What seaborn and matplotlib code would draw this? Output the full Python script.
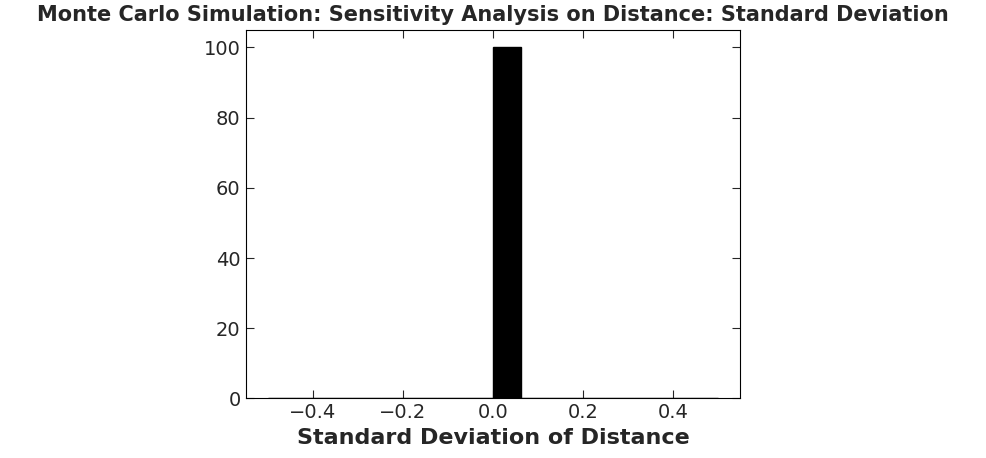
import numpy as np
import matplotlib
matplotlib.use("Agg")
import matplotlib.pyplot as plt
import seaborn as sns

# simulated standard deviations of distance (all runs gave zero spread)
std_of_distance = [0.0] * 100
bin_edges = np.linspace(-0.5, 0.5, 17)

sns.set_style("ticks")
plt.rcParams['font.family'] = ['DejaVu Sans']

fig, ax = plt.subplots(figsize=(9.86, 4.58), dpi=100)
fig.subplots_adjust(left=0.249, right=0.751, top=0.935, bottom=0.13)

sns.histplot(x=std_of_distance, bins=bin_edges, color='black', edgecolor='black',
             alpha=1, ax=ax)

ax.set_xlim(-0.55, 0.55)
ax.set_ylim(0, 105)
ax.set_xlabel('Standard Deviation of Distance', fontsize=16, fontweight='bold')
ax.set_ylabel('')
ax.set_title('Monte Carlo Simulation: Sensitivity Analysis on Distance: Standard Deviation',
             fontsize=15, fontweight='bold')
ax.tick_params(direction='in', top=True, right=True, labelsize=14, length=6)
for s in ax.spines.values():
    s.set_visible(True)
    s.set_color('black')

plt.savefig('out.png', dpi=100)
